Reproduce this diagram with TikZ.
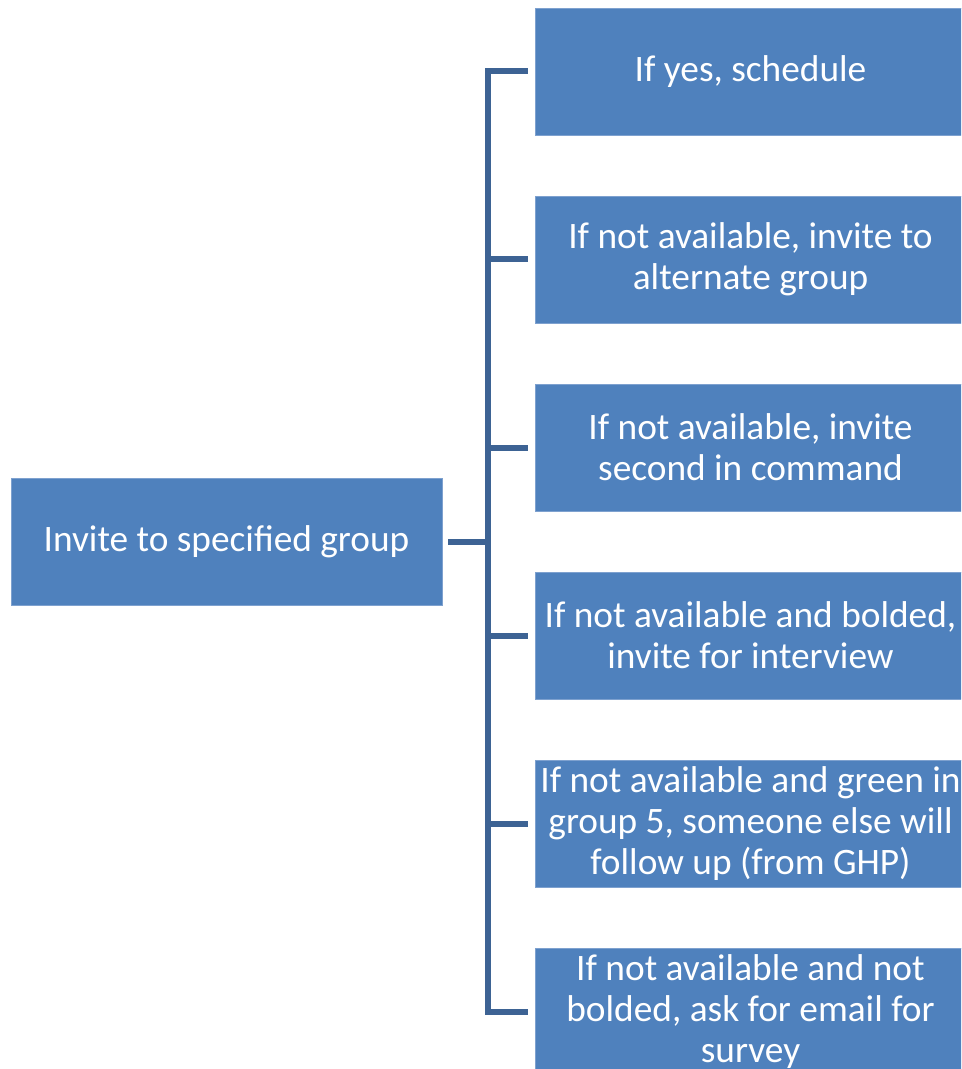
\documentclass[tikz,border=0pt]{standalone}
\usepackage{fontspec}
\setmainfont{Carlito}
\usepackage{xcolor}
\usetikzlibrary{positioning, calc}
\definecolor{boxblue}{HTML}{4F81BD}
\definecolor{boxedge}{HTML}{7EA1CF}
\definecolor{linkblue}{HTML}{3D6394}

\begin{document}
\begin{tikzpicture}[
  x=0.75pt, y=-0.75pt,
  every node/.style={font=\fontsize{28}{30.75}\selectfont},
  box/.style={rectangle, draw=boxedge, line width=0.6pt, fill=boxblue,
              text=white, minimum width=323.25pt, minimum height=95.25pt,
              align=center, inner sep=0pt},
  link/.style={draw=linkblue, line width=4.5pt, line join=miter}
]
  \useasboundingbox (0,0) rectangle (961,1069);
  \clip (0,0) rectangle (961,1069);
  % left box
  \node[box] (invite) at (226.5,541.5) {Invite to specified group};
  % right column of options
  \node[box] (yes)    at (750.5,71.5)  {If yes, schedule};
  \node[box] (alt)    at (750.5,259.5) {If not available, invite to\\alternate group};
  \node[box] (second) at (750.5,447.5) {If not available, invite\\second in command};
  \node[box] (interv) at (750.5,635.5) {If not available and bolded,\\invite for interview};
  \node[box] (green)  at (750.5,823.5) {If not available and green in\\group 5, someone else will\\follow up (from GHP)};
  \node[box] (survey) at (750.5,1011.5) {If not available and not\\bolded, ask for email for\\survey};
  % connectors
  \coordinate (hub) at (488,541.5);
  \draw[link] ($(invite.east)+(6,0)$) -- (hub);
  \draw[link] ($(yes.west)+(-7,0)$) -| (hub |- survey) -- ($(survey.west)+(-7,0)$);
  \foreach \n in {alt, second, interv, green}
    \draw[link] (hub |- \n) -- ($(\n.west)+(-7,0)$);
\end{tikzpicture}
\end{document}
